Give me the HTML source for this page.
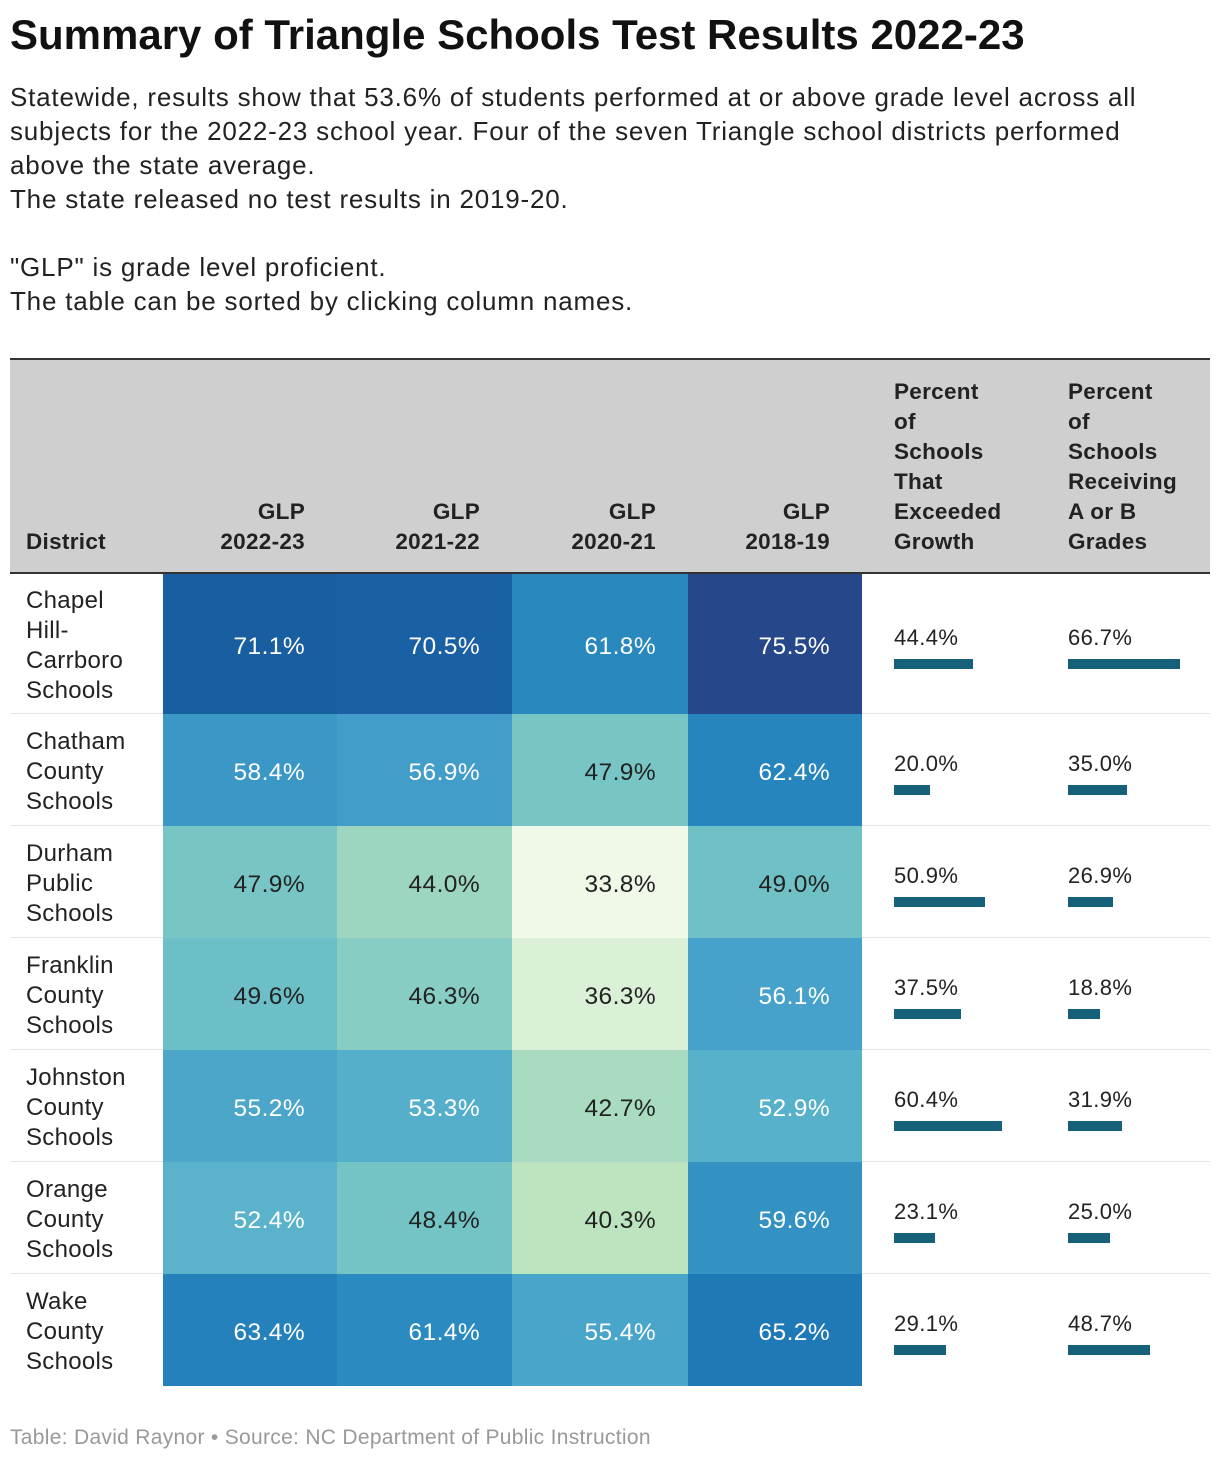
<!DOCTYPE html>
<html><head><meta charset="utf-8"><style>
body{margin:0;background:#fff;width:1220px;height:1462px;overflow:hidden;font-family:"Liberation Sans",sans-serif;color:#222;position:relative}
.abs{position:absolute}
h1{position:absolute;left:10px;top:11px;margin:0;font-size:42px;font-weight:bold;color:#111;letter-spacing:0px}
#sub{position:absolute;left:10px;top:80px;font-size:26px;line-height:34px;color:#222;margin:0;width:1210px;letter-spacing:0.8px;white-space:nowrap}
.hd{position:absolute;font-weight:bold;font-size:22.5px;line-height:30px;color:#222;letter-spacing:0.3px}
.cell{position:absolute;font-size:24.5px;display:flex;align-items:center;justify-content:flex-end;box-sizing:border-box;padding-right:32px;padding-top:6px;letter-spacing:0.4px}
.dist{position:absolute;font-size:24px;line-height:30px;left:26px;color:#222;letter-spacing:0.3px}
.pv{position:absolute;font-size:22px;color:#222;letter-spacing:0.4px}
.bar{position:absolute;height:10px;background:#17607a}
#foot{position:absolute;left:10px;top:1426px;font-size:21px;color:#999;letter-spacing:0.3px}
</style></head><body>
<h1>Summary of Triangle Schools Test Results 2022-23</h1>
<div id="sub">Statewide, results show that 53.6% of students performed at or above grade level across all<br>subjects for the 2022-23 school year. Four of the seven Triangle school districts performed<br>above the state average.<br>The state released no test results in 2019-20.<br><br>"GLP" is grade level proficient.<br>The table can be sorted by clicking column names.</div>
<div class="abs" style="left:10px;top:358px;width:1200px;height:216px;background:#cfcfcf;border-top:2px solid #333;border-bottom:2px solid #333;box-sizing:border-box"></div>
<div id="tbl"></div>
<div id="foot">Table: David Raynor • Source: NC Department of Public Instruction</div>
<script>
const districts=["Chapel Hill-Carrboro Schools","Chatham County Schools","Durham Public Schools","Franklin County Schools","Johnston County Schools","Orange County Schools","Wake County Schools"];
const districtLines=[["Chapel","Hill-","Carrboro","Schools"],["Chatham","County","Schools"],["Durham","Public","Schools"],["Franklin","County","Schools"],["Johnston","County","Schools"],["Orange","County","Schools"],["Wake","County","Schools"]];
const glp2223=[71.1,58.4,47.9,49.6,55.2,52.4,63.4];
const glp2122=[70.5,56.9,44.0,46.3,53.3,48.4,61.4];
const glp2021=[61.8,47.9,33.8,36.3,42.7,40.3,55.4];
const glp1819=[75.5,62.4,49.0,56.1,52.9,59.6,65.2];
const growth=[44.4,20.0,50.9,37.5,60.4,23.1,29.1];
const abGrades=[66.7,35.0,26.9,18.8,31.9,25.0,48.7];
const stops=[[33.8,[240,249,232]],[36.3,[218,241,216]],[40.3,[188,228,190]],[44,[157,214,192]],[47.9,[119,198,197]],[52.9,[87,177,202]],[56.5,[68,160,202]],[62,[40,135,190]],[65.2,[31,121,183]],[71,[26,94,163]],[75.5,[38,72,138]]];
function color(v){
  if(v<=stops[0][0])return 'rgb('+stops[0][1]+')';
  for(let i=1;i<stops.length;i++){if(v<=stops[i][0]){const a=stops[i-1],b=stops[i],t=(v-a[0])/(b[0]-a[0]);return 'rgb('+a[1].map((c,k)=>Math.round(c+(b[1][k]-c)*t)).join(',')+')';}}
  return 'rgb('+stops[stops.length-1][1]+')';
}
const tbl=document.getElementById('tbl');
const colX=[163,337,512,688,862,1036,1210];
const rowY=[574,714,826,938,1050,1162,1274,1386];
const heads=[["District"],["GLP","2022-23"],["GLP","2021-22"],["GLP","2020-21"],["GLP","2018-19"],["Percent","of","Schools","That","Exceeded","Growth"],["Percent","of","Schools","Receiving","A or B","Grades"]];
heads.forEach((h,i)=>{
  const d=document.createElement('div');d.className='hd';
  
  
  d.innerHTML=h.join('<br>');
  const n=h.length;d.style.top=(557-n*30)+'px';
  if(i==0){d.style.left='26px';}
  else if(i<5){d.style.left=(colX[i-1])+'px';d.style.width=(colX[i]-colX[i-1]-32)+'px';d.style.textAlign='right';}
  else{d.style.left=(colX[i-1]+32)+'px';}
  tbl.appendChild(d);
});
const heat=[glp2223,glp2122,glp2021,glp1819];
districts.forEach((nm,r)=>{
  const y0=rowY[r],y1=rowY[r+1],h=y1-y0;
  const sep=document.createElement('div');sep.className='abs';
  
  
  sep.style.cssText=`left:10px;top:${y1-1}px;width:1200px;height:1px;background:#e4e4e4`;
  if(r<districts.length-1)tbl.appendChild(sep);
  const dn=document.createElement('div');dn.className='dist';
  
  
  const lines=districtLines[r];
  dn.innerHTML=lines.join('<br>');dn.style.top=(y0+(h-lines.length*30)/2+2)+'px';
  tbl.appendChild(dn);
  heat.forEach((arr,c)=>{
    const v=arr[r];const e=document.createElement('div');e.className='cell';
    
    
    e.style.left=colX[c]+'px';e.style.top=y0+'px';e.style.width=(colX[c+1]-colX[c])+'px';e.style.height=h+'px';
    e.style.background=color(v);e.style.color=v>50?'#fff':'#222';
    e.textContent=v.toFixed(1)+'%';tbl.appendChild(e);
  });
  [[growth,4,108/60.4],[abGrades,5,112/66.7]].forEach(([arr,c,sc])=>{
    const v=arr[r];const x=colX[c]+32,cy=y0+h/2;
    const t=document.createElement('div');t.className='pv';
    
    
    t.style.left=x+'px';t.style.top=(cy-19)+'px';t.textContent=v.toFixed(1)+'%';tbl.appendChild(t);
    const b=document.createElement('div');b.className='bar';
    
    
    b.style.left=x+'px';b.style.top=(cy+15)+'px';b.style.width=(v*sc)+'px';tbl.appendChild(b);
  });
});
</script>
</body></html>
